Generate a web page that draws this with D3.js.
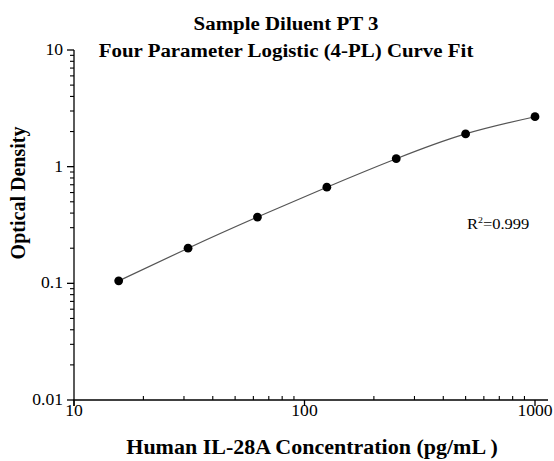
<!DOCTYPE html>
<html>
<head>
<meta charset="utf-8">
<script src="https://cdn.jsdelivr.net/npm/d3@7"></script>
<style>
  body { margin: 0; background: #fff; }
  text { font-family: "Liberation Serif", "Times New Roman", serif; }
</style>
</head>
<body>
<script>
// standard concentrations (pg/mL) and measured optical density
const concentrations = [15.625, 31.25, 62.5, 125, 250, 500, 1000]
const opticalDensity = [0.105, 0.200, 0.370, 0.667, 1.17, 1.91, 2.68]

const xMajorTicks = [10, 100, 1000]
const yMajorTicks = [0.01, 0.1, 1, 10]
const xTickLabels = ["10", "100", "1000"]
const yTickLabels = ["0.01", "0.1", "1", "10"]

const titleLines = ["Sample Diluent PT 3", "Four Parameter Logistic (4-PL) Curve Fit"]
const xTitle = "Human IL-28A Concentration (pg/mL )"
const yTitle = "Optical Density"
const rSquared = "0.999"

const width = 554
const height = 461
const plotLeft = 74, plotRight = 535, plotTop = 50, plotBottom = 400
const axisEnd = 548
const stretch = 1.1   // the original's lettering is a little wide

const svg = d3.select("body").append("svg")
    .attr("width", width)
    .attr("height", height)

const x = d3.scaleLog().domain([10, 1000]).range([plotLeft, plotRight])
const y = d3.scaleLog().domain([0.01, 10]).range([plotBottom, plotTop])

// minor ticks 2..9 in each decade
let xMinor = []
for (let d = 10; d < 1000; d *= 10)
    for (let k = 2; k < 10; k++) xMinor.push(d * k)
let yMinor = []
for (let d = 0.01; d < 10 - 1e-9; d *= 10)
    for (let k = 2; k < 10; k++) yMinor.push(d * k)

const at = (px, py) => `translate(${px},${py}) scale(${stretch},1)`

// x axis: majors point down, minors point up
const gx = svg.append("g").attr("transform", `translate(0,${plotBottom})`)
gx.append("line")
    .attr("x1", plotLeft - 0.5).attr("x2", axisEnd)
    .attr("stroke", "#000").attr("stroke-width", 1.3)
gx.selectAll(".xmaj").data(xMajorTicks).join("line")
    .attr("x1", d => x(d)).attr("x2", d => x(d))
    .attr("y1", 0).attr("y2", 6)
    .attr("stroke", "#000").attr("stroke-width", 1.3)
gx.selectAll(".xmin").data(xMinor).join("line")
    .attr("x1", d => x(d)).attr("x2", d => x(d))
    .attr("y1", 0).attr("y2", -4)
    .attr("stroke", "#000").attr("stroke-width", 1.1)
gx.selectAll("text").data(xMajorTicks).join("text")
    .attr("transform", d => at(x(d), 16))
    .attr("text-anchor", "middle")
    .style("font-size", "16px")
    .text((d, i) => xTickLabels[i])

// y axis: ticks point left
const gy = svg.append("g").attr("transform", `translate(${plotLeft},0)`)
gy.append("line")
    .attr("y1", plotTop).attr("y2", plotBottom + 6)
    .attr("stroke", "#000").attr("stroke-width", 1.3)
gy.selectAll(".ymaj").data(yMajorTicks).join("line")
    .attr("x1", -7).attr("x2", 0)
    .attr("y1", d => y(d)).attr("y2", d => y(d))
    .attr("stroke", "#000").attr("stroke-width", 1.3)
gy.selectAll(".ymin").data(yMinor).join("line")
    .attr("x1", -4).attr("x2", 0)
    .attr("y1", d => y(d)).attr("y2", d => y(d))
    .attr("stroke", "#000").attr("stroke-width", 1.1)
gy.selectAll("text").data(yMajorTicks).join("text")
    .attr("transform", d => at(-11, y(d) + 5))
    .attr("text-anchor", "end")
    .style("font-size", "16px")
    .text((d, i) => yTickLabels[i])

// fitted curve, smooth through the standards in log-log space
const pts = concentrations.map((c, i) => [c, opticalDensity[i]])
const line = d3.line()
    .x(d => x(d[0]))
    .y(d => y(d[1]))
    .curve(d3.curveNatural)
svg.append("path")
    .datum(pts)
    .attr("d", line)
    .attr("fill", "none")
    .attr("stroke", "#555")
    .attr("stroke-width", 1.2)

svg.selectAll(".dot").data(pts).join("circle")
    .attr("cx", d => x(d[0]))
    .attr("cy", d => y(d[1]))
    .attr("r", 4.4)
    .attr("fill", "#000")

// titles
svg.selectAll(".title").data(titleLines).join("text")
    .attr("transform", (d, i) => at(286, 30 + i * 27))
    .attr("text-anchor", "middle")
    .style("font-size", "19px")
    .style("font-weight", "bold")
    .text(d => d)

svg.append("text")
    .attr("transform", at(312, 454))
    .attr("text-anchor", "middle")
    .style("font-size", "20px")
    .style("font-weight", "bold")
    .text(xTitle)

svg.append("text")
    .attr("transform", "translate(25,193) rotate(-90)")
    .attr("text-anchor", "middle")
    .style("font-size", "20px")
    .style("font-weight", "bold")
    .text(yTitle)

// R squared note
const r2 = svg.append("text")
    .attr("transform", at(467, 229))
    .style("font-size", "15px")
r2.append("tspan").text("R")
r2.append("tspan").attr("dy", -6).style("font-size", "9px").text("2")
r2.append("tspan").attr("dy", 6).text("=" + rSquared)
</script>
</body>
</html>
